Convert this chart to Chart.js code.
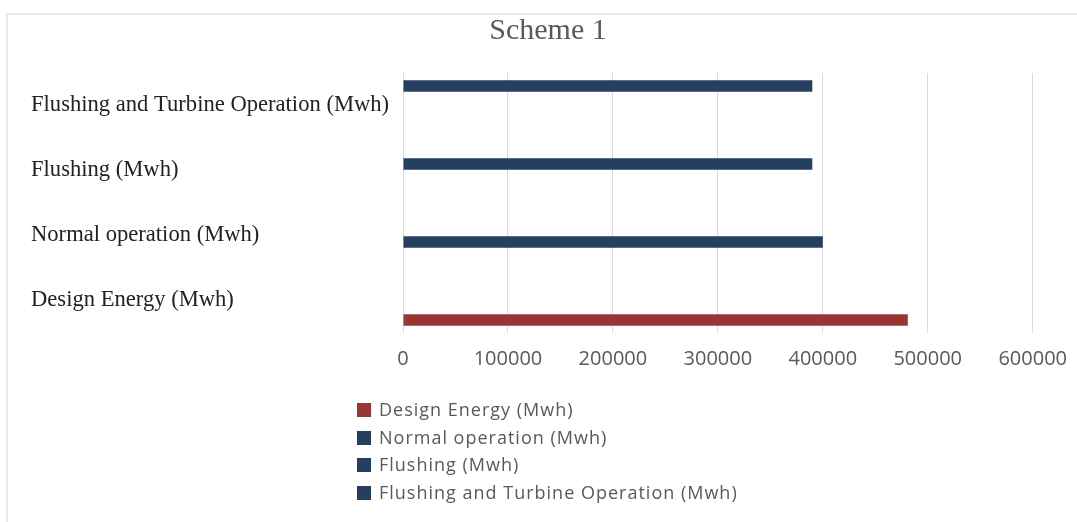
<!DOCTYPE html>
<html>
<head>
<meta charset="utf-8">
<title>Scheme 1</title>
<script src="https://cdn.jsdelivr.net/npm/chart.js@4/dist/chart.umd.min.js"></script>
<style>
	html, body { margin: 0; padding: 0; background: #fff; }
	#wrap { position: relative; width: 1077px; height: 522px; overflow: hidden; }
	#frame { position: absolute; left: 6px; top: 13px; width: 1100px; height: 540px;
		border-left: 2px solid #e8e8e8; border-top: 2px solid #e8e8e8; }
	#chart { position: absolute; left: 0; top: 0; }
	#legend { position: absolute; left: 357px; top: 396px; font-family: "Open Sans", sans-serif;
		font-size: 18px; letter-spacing: 1px; color: #595959; }
	#legend div { height: 27.7px; line-height: 27.7px; white-space: nowrap; }
	#legend span.box { display: inline-block; width: 14px; height: 14px; margin-right: 8px; vertical-align: -1px; }
</style>
</head>
<body>
<div id="wrap">
	<div id="frame"></div>
	<canvas id="chart" width="1077" height="522"></canvas>
	<div id="legend"></div>
</div>
<script>
// data - categories listed bottom to top like the original sheet
const categories = ['Design Energy (Mwh)', 'Normal operation (Mwh)', 'Flushing (Mwh)', 'Flushing and Turbine Operation (Mwh)'];
const energyValues = [481000, 400000, 390000, 390000];
const xTickValues = [0, 100000, 200000, 300000, 400000, 500000, 600000];

// colours per series (same order as categories)
const seriesColors = ['#963735', '#243f60', '#243f60', '#243f60'];

// Chart.js draws the first y label on top, so flip the order
const topToBottom = categories.slice().reverse();

// one series per category, only its own category gets a value (like Excel did)
const datasets = topToBottom.map(function (name, k) {
	const idx = categories.indexOf(name);
	return {
		label: name,
		data: topToBottom.map(function (c, j) { return j === k ? energyValues[idx] : null; }),
		backgroundColor: seriesColors[idx],
		borderWidth: 0
	};
});

const ctx = document.getElementById('chart').getContext('2d');
const chart = new Chart(ctx, {
	type: 'bar',
	data: {
		labels: topToBottom,
		datasets: datasets
	},
	options: {
		indexAxis: 'y',
		responsive: false,
		animation: false,
		events: [],
		categoryPercentage: 0.8,
		barPercentage: 0.9,
		layout: {
			padding: { left: 31, top: 13, right: 12, bottom: 141 }
		},
		plugins: {
			legend: { display: false },
			tooltip: { enabled: false },
			title: {
				display: true,
				text: 'Scheme 1',
				color: '#595959',
				font: { family: '"Liberation Serif", serif', size: 30, weight: 'normal' },
				padding: { top: 0, bottom: 24 }
			}
		},
		scales: {
			x: {
				min: 0,
				max: 600000,
				afterBuildTicks: function (scale) {
					scale.ticks = xTickValues.map(function (v) { return { value: v }; });
				},
				ticks: {
					color: '#595959',
					padding: 10,
					font: { family: '"Open Sans", sans-serif', size: 20 },
					callback: function (value) { return String(value); }
				},
				// invisible tick marks just push the labels down a little
				grid: { color: '#d9d9d9', lineWidth: 1, drawTicks: true, tickLength: 4, tickColor: 'rgba(0,0,0,0)' },
				border: { display: false }
			},
			y: {
				afterFit: function (scale) {
					scale.width = 372; // keeps the plot starting where the original does
				},
				ticks: {
					color: '#222222',
					crossAlign: 'far',
					font: { family: '"Liberation Serif", serif', size: 22.6 }
				},
				grid: { display: false, drawTicks: false },
				border: { display: false }
			}
		}
	}
});

// legend as a plain list under the chart, first category first
const legendEl = document.getElementById('legend');
categories.forEach(function (name, i) {
	const row = document.createElement('div');
	const box = document.createElement('span');
	box.className = 'box';
	box.style.background = seriesColors[i];
	row.appendChild(box);
	row.appendChild(document.createTextNode(name));
	legendEl.appendChild(row);
});
</script>
</body>
</html>
